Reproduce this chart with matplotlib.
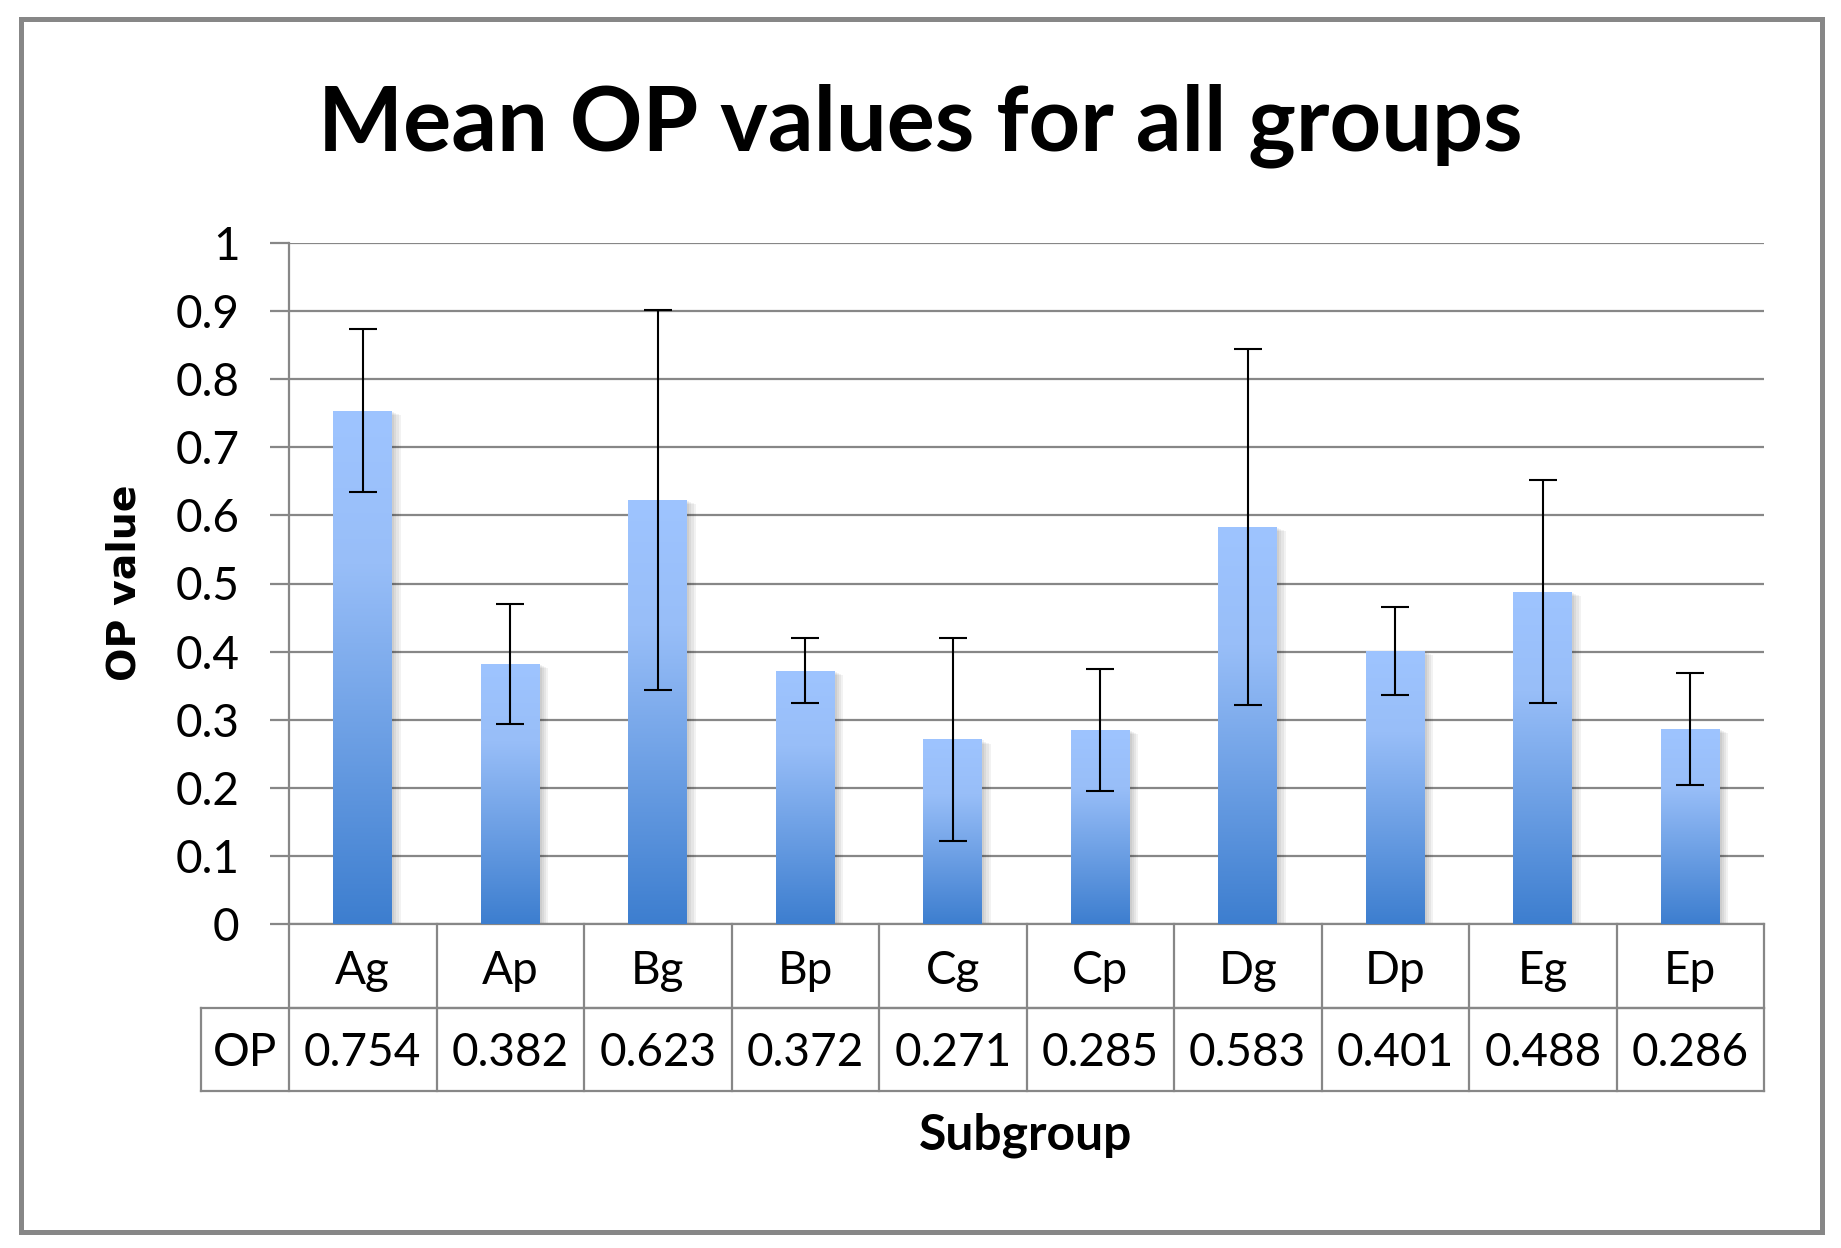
import matplotlib
matplotlib.use("Agg")
import matplotlib.pyplot as plt
import matplotlib.patheffects as pe
import numpy as np
from matplotlib.colors import LinearSegmentedColormap
from matplotlib.patches import Rectangle
from matplotlib.ticker import FuncFormatter, MultipleLocator

# data
subgroups = ["Ag", "Ap", "Bg", "Bp", "Cg", "Cp", "Dg", "Dp", "Eg", "Ep"]
op_values = [0.754, 0.382, 0.623, 0.372, 0.271, 0.285, 0.583, 0.401, 0.488, 0.286]
op_errors = [0.120, 0.088, 0.279, 0.048, 0.149, 0.090, 0.262, 0.064, 0.164, 0.082]
row_label = "OP"

W, H = 1841, 1248
GRAY = "#878787"
FONT = ["Lato", "DejaVu Sans"]


def fit_width(txt, target_px, renderer):
    # scale the font so the text gets the same width as in the reference
    w = txt.get_window_extent(renderer).width
    txt.set_fontsize(txt.get_fontsize() * target_px / w)


def main():
    fig = plt.figure(figsize=(W / 100, H / 100), dpi=100)
    ax = fig.add_axes([289 / W, 1 - 924 / H, 1475 / W, 681 / H])

    x = np.arange(len(subgroups))
    cmap = LinearSegmentedColormap.from_list(
        "bar", [(0.0, "#3D7ECF"), (0.7, "#98BEF8"), (1.0, "#9EC4FF")])
    grad = np.linspace(0, 1, 256).reshape(-1, 1)

    shadow = [pe.SimplePatchShadow(offset=(o, -o / 2), shadow_rgbFace="black", alpha=0.05)
              for o in (1.5, 3, 4.5, 6)]
    bars = ax.bar(x, op_values, width=0.4, color="none", edgecolor="none", zorder=2)
    for b in bars:
        b.set_path_effects(shadow)
        bx, by = b.get_x(), b.get_y()
        im = ax.imshow(grad, extent=[bx, bx + b.get_width(), by, by + b.get_height()],
                       origin="lower", aspect="auto", cmap=cmap, zorder=3,
                       interpolation="bilinear")
        im.set_clip_path(b)

    ax.errorbar(x, op_values, yerr=op_errors, fmt="none", ecolor="black",
                elinewidth=1.5, capsize=10, capthick=1.5, zorder=4)

    ax.set_xlim(-0.5, len(subgroups) - 0.5)
    ax.set_ylim(0, 1)
    ax.yaxis.set_major_locator(MultipleLocator(0.1))
    ax.yaxis.set_major_formatter(FuncFormatter(lambda v, p: f"{v:.1f}".rstrip("0").rstrip(".") if v else "0"))
    ax.grid(axis="y", color=GRAY, linewidth=1.6, zorder=1)
    ax.set_axisbelow(True)
    for s in ("top", "right"):
        ax.spines[s].set_visible(False)
    for s in ("left", "bottom"):
        ax.spines[s].set_color(GRAY)
        ax.spines[s].set_linewidth(1.6)
    ax.set_xticks([])
    ax.tick_params(axis="y", direction="out", length=13.7, width=1.6, color=GRAY,
                   pad=22, labelsize=33)
    for lab in ax.get_yticklabels():
        lab.set_family(FONT)

    # data table under the plot
    tr = ax.get_xaxis_transform()
    left = -0.5 - 88 / 147.5
    r1 = -84 / 681
    r2 = -167 / 681
    line = dict(color=GRAY, linewidth=1.6, transform=tr, clip_on=False)
    ax.plot([-0.5, len(subgroups) - 0.5], [r1, r1], **line)
    ax.plot([left, left], [r1, r2], **line)
    ax.plot([left, len(subgroups) - 0.5], [r1, r1], **line)
    ax.plot([left, len(subgroups) - 0.5], [r2, r2], **line)
    for i in range(len(subgroups) + 1):
        ax.plot([i - 0.5, i - 0.5], [0, r2], **line)
    for i, (name, v) in enumerate(zip(subgroups, op_values)):
        ax.text(i, -60 / 681, name, transform=tr, ha="center", va="baseline",
                fontsize=33, family=FONT)
        ax.text(i, -142 / 681, f"{v:.3f}", transform=tr, ha="center", va="baseline",
                fontsize=33, family=FONT)
    ax.text((left - 0.5) / 2, -142 / 681, row_label, transform=tr, ha="center",
            va="baseline", fontsize=33, family=FONT)

    title = fig.text(0.5, 1 - 150 / H, "Mean OP values for all groups", ha="center",
                     va="baseline", fontsize=60, fontweight="bold", family=FONT)
    xlab = fig.text(1026 / W, 1 - 1150 / H, "Subgroup", ha="center", va="baseline",
                    fontsize=32, fontweight="bold", family=FONT)
    ylab = fig.text(124 / W, 1 - 583 / H, "OP value", ha="center", va="center",
                    rotation=90, fontsize=28, fontweight="bold", family="DejaVu Sans")

    renderer = fig.canvas.get_renderer()
    fit_width(title, 1205, renderer)
    fit_width(xlab, 214, renderer)
    ylab_w = ylab.get_window_extent(renderer).height
    ylab.set_fontsize(ylab.get_fontsize() * 196 / ylab_w)

    # outer chart border
    fig.patches.append(Rectangle((20.5 / W, 1 - 1232 / H), 1801 / W, 1213.5 / H,
                                 transform=fig.transFigure, fill=False,
                                 edgecolor=GRAY, linewidth=3.6))

    fig.savefig("out.png", dpi=100)
    plt.close(fig)


if __name__ == "__main__":
    main()
